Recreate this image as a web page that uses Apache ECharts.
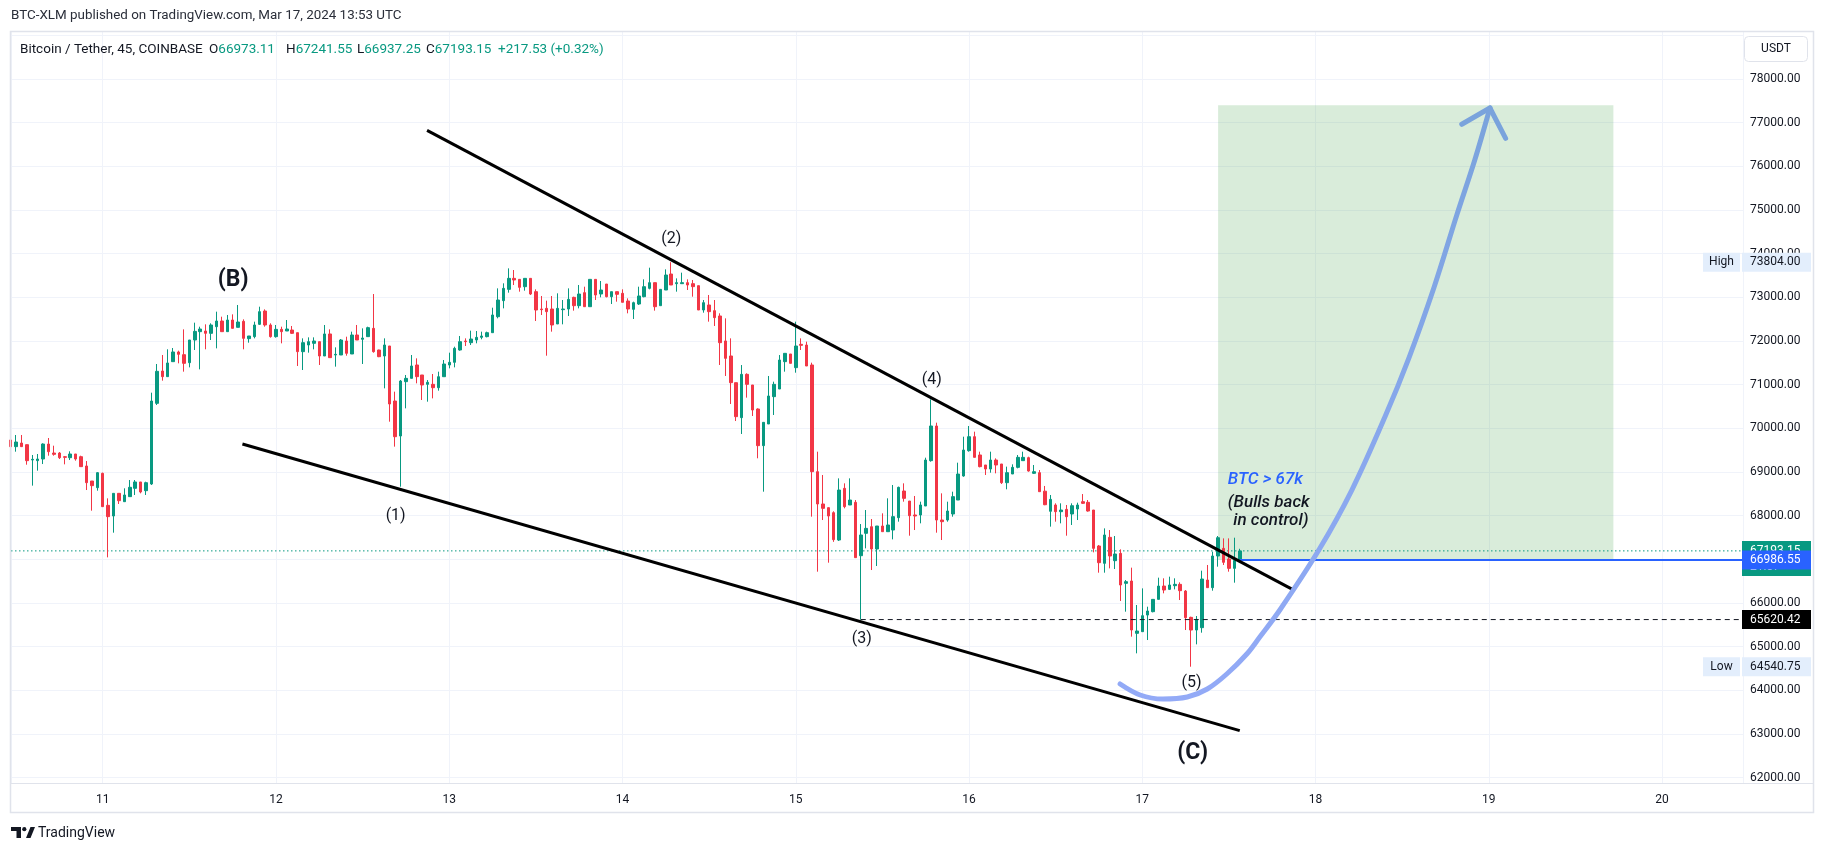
<!DOCTYPE html>
<html><head><meta charset="utf-8">
<script src="https://cdn.jsdelivr.net/npm/echarts@6/dist/echarts.min.js"></script>
<style>html,body{margin:0;padding:0;background:#fff}#c{width:1824px;height:852px}</style>
</head><body><div id="c"></div>
<script>
// 45-minute BTC/USDT bars. Bar index 0 = Mar 11 00:00 UTC (32 bars per day).
const FIRST_INDEX = -17;
const opens = [69732,69580,69663,69625,69274,69259,69297,69640,69434,69434,69350,69327,69412,69350,69137,68793,68641,
68969,68236,67992,68511,68320,68435,68626,68771,68572,68725,70572,71312,71183,71526,71748,71686,71503,72022,72213,72228,72175,72327,72457,72213,72480,72312,72450,72053,72099,72381,72686,72366,
72099,72266,72228,72251,72190,71755,71908,71946,71984,71656,72160,71679,71679,71999,71702,72137,72038,72099,72289,71793,71656,71885,70625,69824,71068,71144,71450,71221,71007,71007,70930,71182,
71450,71511,71793,71999,71961,72022,72083,72099,72190,72556,72923,73182,73434,73411,73243,73434,73129,72732,72747,72732,72389,72717,72732,72999,72808,73106,72785,73411,73076,73304,73014,73129,
73091,72915,72724,72846,73014,73205,73335,72808,73167,73533,73312,73312,73335,73312,73266,72709,72824,72694,72572,72000,71656,71045,70244,71236,70992,70442,69603,70099,70725,70900,71526,71702,
71389,71923,71907,71450,69007,68267,68183,68068,67442,68625,68244,68305,67083,67595,67747,67236,67763,67633,67671,67954,68564,68335,68015,68015,68221,69259,70053,67900,67900,68038,68358,68908,
69488,69808,69389,69160,69068,69274,69183,68755,68954,69106,69259,69327,68969,68984,68560,68100,68244,68091,68144,68038,68152,68320,68305,68129,67305,66908,67503,66969,67137,66450,66503,65305,
65343,65724,65801,66083,66388,66312,66396,66427,66274,65671,65381,65435,66526,66351,67076,67251,67007,66793,66973];
const highs = [69745,69847,69847,69630,69389,69412,69656,69778,69602,69457,69366,69473,69412,69373,69251,68793,68999,
68985,68396,68511,68511,68626,68816,68816,68771,68778,70816,71473,71679,71809,71839,71778,72266,72022,72419,72327,72381,72404,72671,72556,72595,72610,72824,72495,72114,72442,72785,72724,72404,
72366,72327,72480,72343,72190,72060,72083,72083,71984,72366,72266,71854,72045,72098,72213,72366,72289,72327,73075,71800,72060,71885,70839,71106,71221,71679,71602,71221,71106,71244,71297,71564,
71732,71869,72114,72060,72236,72228,72213,72213,72762,73205,73320,73663,73625,73411,73434,73434,73182,73030,72923,73030,73091,72938,73205,73014,73282,73243,73411,73411,73373,73304,73129,73129,
73182,72976,72900,73243,73411,73678,73335,73182,73640,73804,73434,73564,73411,73396,73266,72938,73053,72938,72633,72518,72060,71045,71449,71259,70992,70457,70137,71198,71068,71678,71717,71702,
72442,72060,71984,71503,69465,68931,68190,68100,68854,68740,68854,68358,67808,68129,67923,67763,68053,68397,68702,68664,68740,68335,68450,68320,69327,70663,70129,68511,68320,68549,69213,69808,
70053,69923,69465,69160,69465,69312,69183,69122,69175,69389,69465,69350,69160,69045,68680,68473,68282,68282,68244,68282,68297,68495,68358,68129,67328,67709,67671,67534,67228,66526,66809,65954,
66335,65915,66083,66580,66565,66603,66565,66473,66297,65686,65702,66740,66870,67175,67534,67480,67480,67495,67242];
const lows = [69570,69465,69575,69167,68687,69030,69182,69373,69373,69297,69175,69274,69259,69122,68587,68114,68572,
68200,67045,67610,68267,68320,68435,68473,68511,68473,68702,70534,71091,71183,71526,71488,71297,71396,71793,71350,71809,72022,71831,72213,72213,72289,72312,71809,71961,72060,72366,72327,72076,
72076,71946,72228,72160,71427,71335,71732,71808,71450,71656,71618,71412,71679,71663,71702,72022,71473,72099,71732,71630,70915,70152,69580,68663,70457,71144,71030,70648,70610,70686,70862,71182,
71373,71396,71778,71885,71908,71946,72038,72083,72190,72518,72747,73106,73281,73129,73152,73052,72457,72594,71663,72213,72389,72381,72572,72694,72747,72785,72785,72938,73000,72999,72846,72900,
72885,72633,72503,72824,73000,73182,72694,72808,73167,73282,73129,73312,73167,73014,72709,72648,72442,72343,71450,71198,70557,70167,69870,70702,70282,69313,68549,70099,70305,70900,71297,71488,
71274,71793,71427,67977,66717,67900,66923,67400,67420,68167,68244,67038,65620,67251,66755,66847,67633,67633,67457,67862,68320,67541,67671,67824,68221,69236,67610,67442,67862,67976,68358,68892,
69465,69335,69106,68931,68984,68969,68725,68603,68954,69083,69259,69007,68954,68549,68240,67748,67862,67824,67541,67786,67900,68267,68091,67160,66694,66694,66793,66778,66046,65801,65229,64847,
65343,65152,65786,66083,66221,66297,66312,66068,65381,64541,65053,65320,66351,66282,66832,66870,66717,66465,66937];
const closes = [69580,69686,69580,69259,69290,69297,69640,69465,69404,69327,69335,69412,69297,69122,68755,68687,68984,
68206,67977,68511,68343,68473,68649,68771,68542,68755,70625,71305,71183,71496,71748,71694,71488,72022,72220,72274,72175,72366,72457,72213,72480,72289,72434,72060,72114,72366,72671,72366,72099,
72266,72213,72274,72175,71755,71961,71984,71999,71656,72160,71618,71694,72022,71717,72137,72022,72068,72305,71755,71640,71908,70557,69808,71083,71144,71427,71183,70992,71053,70930,71182,71472,
71511,71831,71984,71984,72045,72083,72114,72190,72595,72938,73205,73434,73396,73228,73434,73075,72709,72717,72671,72366,72747,72732,72953,72808,73075,72785,73411,73053,73167,73014,73129,73068,
72885,72732,72877,73030,73243,73335,72785,73182,73510,73282,73335,73335,73282,73244,72709,72877,72671,72534,71961,71602,71045,70267,71236,71007,70419,69603,70137,70740,71007,71564,71717,71488,
71885,71900,71427,69007,68267,68167,67992,67450,68587,68206,68358,67038,67557,67709,67236,67763,67633,67786,67977,68648,68396,67999,67992,68244,69274,70053,67900,67862,68106,68435,68953,69503,
69808,69335,69122,69068,69274,69160,68755,68984,69106,69335,69335,69022,69007,68549,68250,68373,68091,68129,67976,68228,68244,68282,68106,67251,66923,67557,67076,67122,66412,66488,65381,65358,
65709,65816,66083,66388,66297,66412,66427,66282,65664,65381,65625,66549,66351,67076,67495,66931,66793,66975,67193];

// Drawings (bar index, price)
const upperTrend = [[59.9, 76824], [219.9, 66302]];
const lowerTrend = [[25.8, 69641], [210.0, 63076]];
const projection = [[187.9,64145],[191.6,63893],[195.8,63801],[200.3,63847],[204.0,64030],[207.6,64374],[211.3,64832],[213.7,65221],[217.4,65840],[224.6,67213],[230.7,68587],[236.8,70258],[241.3,71632],[245.9,73236],[250.2,74930],[253.4,76144],[256.2,77335]];
const arrowHead = [[251.0,76962],[256.2,77335],[259.1,76641]];
const targetZone = [[206, 66986.55], [279, 77400]];
const lastPrice = 67193.15, entryPrice = 66986.55, supportPrice = 65620.42;
const highPrice = 73804.00, lowPrice = 64540.75;
const supportFrom = 140, entryFrom = 210;
const waveLabels = [['(B)',24.1,73385,true],['(C)',201.3,62558,true],['(1)',54.1,67992,false],['(2)',105.0,74342,false],['(3)',140.2,65171,false],['(4)',153.1,71106,false],['(5)',201.1,64161,false]];
const noteLines = [['BTC > 67k',207.8,68832],['(Bulls back',207.8,68301],['in control)',208.8,67889]];
const header = 'BTC-XLM published on TradingView.com, Mar 17, 2024 13:53 UTC';
const symbolName = 'Bitcoin / Tether, 45, COINBASE';
const ohlcKeys = ['O','H','L','C',''];
const ohlcValues = ['66973.11','67241.55','66937.25','67193.15','+217.53 (+0.32%)'];
const countdown = '21:07';
const yLabelMax = 78000;

const X_MIN = -16.94, X_MAX = 302.94, Y_MIN = 61878, Y_MAX = 79098;
const UP = '#089981', DOWN = '#f23645', FONT = 'Roboto, "Noto Sans", sans-serif';

const chart = echarts.init(document.getElementById('c'), null, {renderer: 'canvas', width: 1824, height: 852});
const candles = opens.map((o, i) => [FIRST_INDEX + i, o, closes[i], lows[i], highs[i]]);

const lineSeries = (data, style, z, extra) => Object.assign({
  type: 'line', data, symbol: 'none', silent: true, z, lineStyle: style, animation: false
}, extra || {});

chart.setOption({
  animation: false,
  textStyle: {fontFamily: FONT},
  grid: {left: 11, top: 31, width: 1732, height: 752, containLabel: false},
  xAxis: {
    type: 'value', min: X_MIN, max: X_MAX, minInterval: 32, maxInterval: 32,
    axisLine: {show: true, lineStyle: {color: '#e0e3eb', width: 1}},
    axisTick: {show: false},
    axisLabel: {show: true, color: '#131722', fontSize: 12, margin: 11, fontFamily: FONT,
      showMinLabel: false, showMaxLabel: false,
      formatter: v => (Math.abs(v % 32) < 1e-6 ? String(11 + v / 32) : '')},
    splitLine: {show: true, lineStyle: {color: '#f0f3fa', width: 1}}
  },
  yAxis: {
    type: 'value', position: 'right', min: Y_MIN, max: Y_MAX, minInterval: 1000, maxInterval: 1000, scale: true,
    axisLine: {show: false}, axisTick: {show: false},
    axisLabel: {show: true, color: '#131722', fontSize: 12, margin: 7, fontFamily: FONT,
      showMinLabel: false, showMaxLabel: false,
      formatter: v => (Math.abs(v % 1000) < 1e-6 && v <= yLabelMax ? v.toFixed(2) : '')},
    splitLine: {show: true, lineStyle: {color: '#f0f3fa', width: 1}}
  },
  series: [
    {
      type: 'candlestick', data: candles, encode: {x: 0, y: [1, 2, 3, 4]},
      barWidth: 3, z: 3, silent: true,
      itemStyle: {color: UP, color0: DOWN, borderColor: UP, borderColor0: DOWN, borderWidth: 1},
      markArea: {silent: true, z: 1, itemStyle: {color: 'rgba(67,160,71,0.2)'},
        data: [[{coord: targetZone[0]}, {coord: targetZone[1]}]]}
    },
    lineSeries([[X_MIN, lastPrice], [X_MAX, lastPrice]], {color: UP, width: 1, type: [1.5, 2.5]}, 2),
    lineSeries([[entryFrom, entryPrice], [X_MAX, entryPrice]], {color: '#2962ff', width: 2}, 4),
    lineSeries([[supportFrom, supportPrice], [X_MAX, supportPrice]], {color: '#131722', width: 1, type: [5, 4]}, 4),
    lineSeries(upperTrend, {color: '#000', width: 3}, 5),
    lineSeries(lowerTrend, {color: '#000', width: 3}, 5),
    lineSeries(projection, {width: 5, cap: 'round', join: 'round',
      color: new echarts.graphic.LinearGradient(0, 1, 0, 0, [{offset: 0, color: '#93aaf7'}, {offset: 0.35, color: '#8aa8ef'}, {offset: 1, color: '#7aa3dc'}])}, 6, {smooth: 0.35}),
    lineSeries(arrowHead, {color: '#7aa3dc', width: 5, cap: 'round', join: 'round'}, 6)
  ]
});

function px(k, p) { return chart.convertToPixel({gridIndex: 0}, [k, p]); }
function py(p) { return chart.convertToPixel({yAxisIndex: 0}, p); }

const g = [];
// frame
g.push({type: 'rect', shape: {x: 10.5, y: 31.5, width: 1803, height: 781}, style: {fill: 'none', stroke: '#e0e3eb', lineWidth: 1.5}, z: 50});
g.push({type: 'line', shape: {x1: 10, y1: 783.5, x2: 1813, y2: 783.5}, style: {stroke: '#e0e3eb', lineWidth: 1}, z: 50});
// header
g.push({type: 'text', x: 11, y: 16, style: {text: header, fill: '#2a2e39', font: '13.4px ' + FONT, textVerticalAlign: 'middle'}, z: 60});
// legend line: name then O/H/L/C values
const legendX = [20, 209, 286, 357, 426, 498];
g.push({type: 'text', x: legendX[0], y: 50, z: 60, style: {text: symbolName, fill: '#131722', font: '13.5px ' + FONT, textVerticalAlign: 'middle'}});
ohlcValues.forEach((v, i) => {
  g.push({type: 'text', x: legendX[i + 1], y: 50, z: 60, style: {
    text: (ohlcKeys[i] ? '{k|' + ohlcKeys[i] + '}' : '') + '{v|' + v + '}', textVerticalAlign: 'middle', font: '13.5px ' + FONT,
    rich: {k: {fill: '#131722', font: '13.5px ' + FONT}, v: {fill: UP, font: '13.5px ' + FONT}}}});
});
// USDT button
g.push({type: 'rect', shape: {x: 1744.5, y: 36.5, width: 63, height: 25, r: 4}, style: {fill: '#fff', stroke: '#e0e3eb', lineWidth: 1}, z: 60});
g.push({type: 'text', x: 1776, y: 49, style: {text: 'USDT', fill: '#131722', font: '12px ' + FONT, textAlign: 'center', textVerticalAlign: 'middle'}, z: 61});

function axisBox(price, text, bg, fg, z) {
  const y = py(price);
  g.push({type: 'rect', shape: {x: 1742, y: y - 9.5, width: 69, height: 19}, style: {fill: bg}, z: z});
  g.push({type: 'text', x: 1750, y: y, style: {text: text, fill: fg, font: '12px ' + FONT, textVerticalAlign: 'middle'}, z: z + 1});
}
// High / Low
axisBox(highPrice, highPrice.toFixed(2), '#e3eefc', '#131722', 70);
axisBox(lowPrice, lowPrice.toFixed(2), '#e3eefc', '#131722', 70);
[[highPrice, 'High'], [lowPrice, 'Low']].forEach(([p, t]) => {
  const y = py(p);
  g.push({type: 'rect', shape: {x: 1703, y: y - 9.5, width: 37, height: 19}, style: {fill: '#e3eefc'}, z: 70});
  g.push({type: 'text', x: 1721.5, y: y, style: {text: t, fill: '#131722', font: '12px ' + FONT, textAlign: 'center', textVerticalAlign: 'middle'}, z: 71});
});
// last price (with countdown) then entry label on top
{
  const y = py(lastPrice);
  g.push({type: 'rect', shape: {x: 1742, y: y - 10, width: 69, height: 35}, style: {fill: UP}, z: 72});
  g.push({type: 'text', x: 1750, y: y, style: {text: lastPrice.toFixed(2), fill: '#fff', font: '12px ' + FONT, textVerticalAlign: 'middle'}, z: 73});
  g.push({type: 'text', x: 1750, y: y + 16, style: {text: countdown, fill: '#fff', font: '12px ' + FONT, textVerticalAlign: 'middle'}, z: 73});
}
axisBox(entryPrice, entryPrice.toFixed(2), '#2962ff', '#fff', 74);
axisBox(supportPrice, supportPrice.toFixed(2), '#000', '#fff', 74);

// wave labels
waveLabels.forEach(([t, k, p, big]) => {
  const [x, y] = px(k, p);
  g.push({type: 'text', x, y, style: {text: t, fill: '#131722',
    font: (big ? 'bold 23px ' : '16px ') + FONT, textAlign: 'center', textVerticalAlign: 'middle'}, z: 80});
});
noteLines.forEach(([t, k, p], i) => {
  const [x, y] = px(k, p);
  g.push({type: 'text', x, y, style: {text: t, fill: i === 0 ? '#2962ff' : '#131722',
    font: 'italic 500 17px ' + FONT, textVerticalAlign: 'middle'}, z: 80});
});

// TradingView logo
g.push({type: 'polygon', shape: {points: [[11,827],[21,827],[21,838],[16.5,838],[16.5,831],[11,831]]}, style: {fill: '#131722'}, z: 60});
g.push({type: 'circle', shape: {cx: 24.3, cy: 829.2, r: 2.1}, style: {fill: '#131722'}, z: 60});
g.push({type: 'polygon', shape: {points: [[26,838],[30.5,827],[35,827],[30.5,838]]}, style: {fill: '#131722'}, z: 60});
g.push({type: 'text', x: 38, y: 833, style: {text: 'TradingView', fill: '#131722', font: '14px ' + FONT, textVerticalAlign: 'middle'}, z: 60});

chart.setOption({graphic: {elements: g}});
</script></body></html>
